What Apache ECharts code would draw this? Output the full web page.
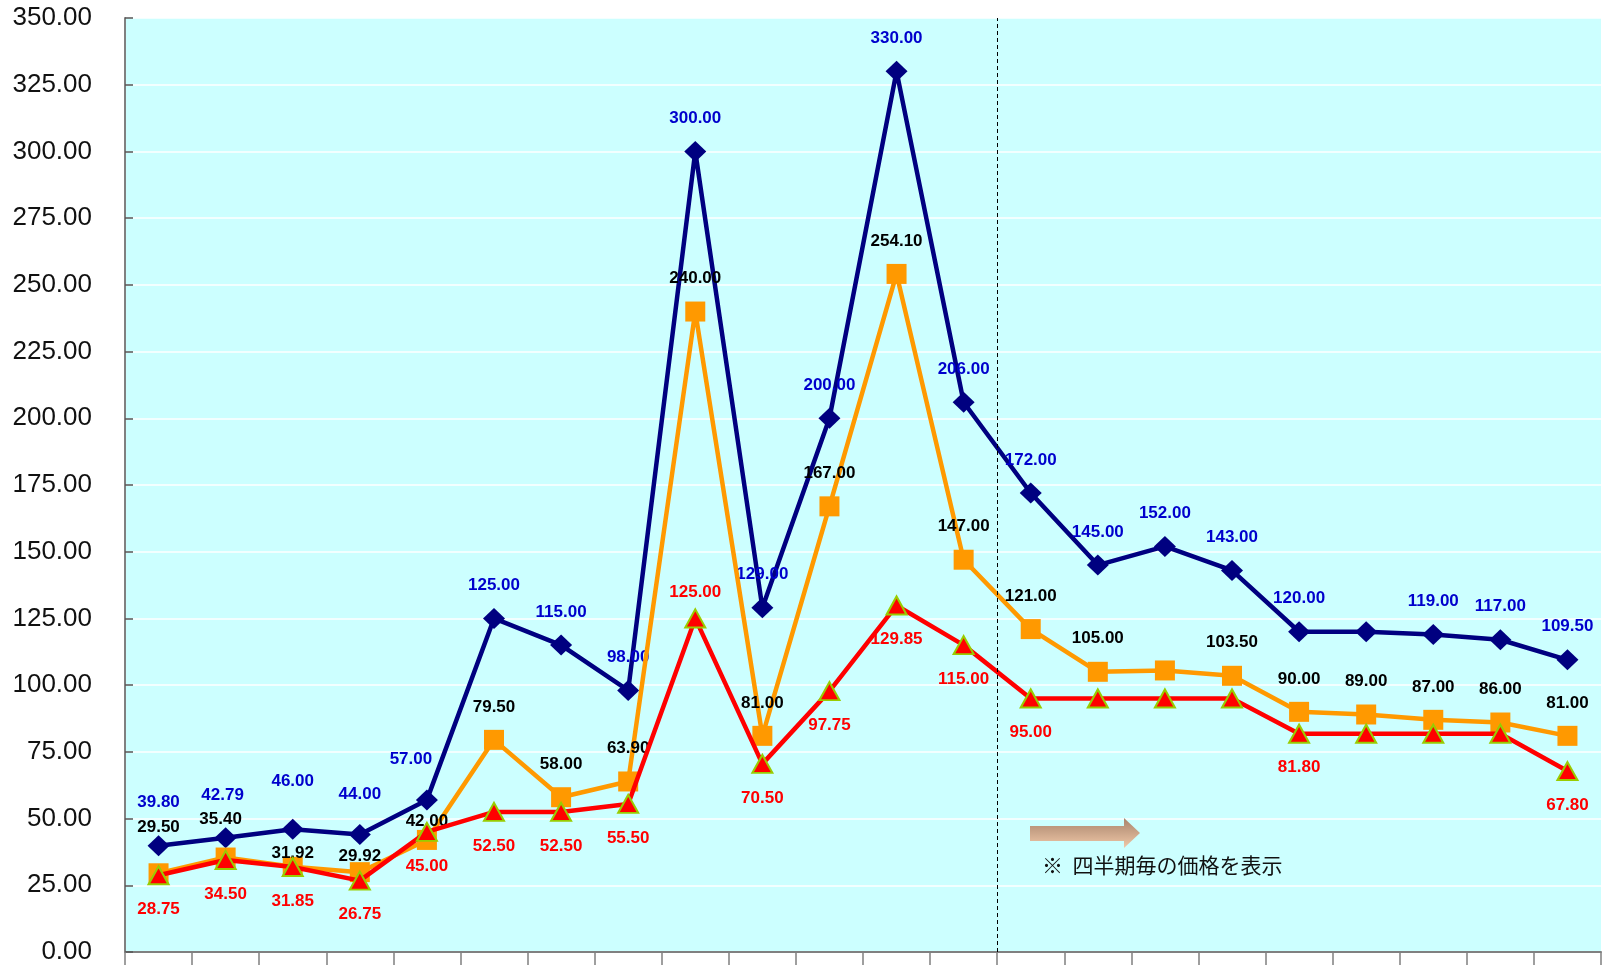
<!DOCTYPE html>
<html>
<head>
<meta charset="utf-8">
<script src="https://cdn.jsdelivr.net/npm/echarts@6/dist/echarts.min.js"></script>
<style>
html,body{margin:0;padding:0;background:#fff;}
#c{width:1606px;height:965px;}
</style>
</head>
<body>
<div id="c"></div>
<script>
// ---- data ----
var categories = ['1','2','3','4','5','6','7','8','9','10','11','12','13','14','15','16','17','18','19','20','21','22'];
var highPrice = [39.80, 42.79, 46.00, 44.00, 57.00, 125.00, 115.00, 98.00, 300.00, 129.00, 200.00, 330.00, 206.00, 172.00, 145.00, 152.00, 143.00, 120.00, 120.00, 119.00, 117.00, 109.50];
var midPrice  = [29.50, 35.40, 31.92, 29.92, 42.00, 79.50, 58.00, 63.90, 240.00, 81.00, 167.00, 254.10, 147.00, 121.00, 105.00, 105.50, 103.50, 90.00, 89.00, 87.00, 86.00, 81.00];
var lowPrice  = [28.75, 34.50, 31.85, 26.75, 45.00, 52.50, 52.50, 55.50, 125.00, 70.50, 97.75, 129.85, 115.00, 95.00, 95.00, 95.00, 95.00, 81.80, 81.80, 81.80, 81.80, 67.80];
var yTicks = {min: 0, max: 350, interval: 25};
var quarterStartIndex = 13;
var noteText = '※  四半期毎の価格を表示';

// ---- label styling (positions only, not data) ----
var hiddenLabels = { high: [18], mid: [15], low: [14, 15, 16, 18, 19, 20] };
var labelOffsets = {
  high: { def: [0, -33], 0: [0, -43], 1: [-3, -42], 2: [0, -48], 3: [0, -40], 4: [-16, -41] },
  mid:  { def: [0, -33], 0: [0, -46], 1: [-5, -38], 2: [0, -14], 3: [0, -16], 4: [0, -19] },
  low:  { def: [0, 34], 8: [0, -26] }
};

function buildData(values, key) {
  return values.map(function (v, i) {
    var off = labelOffsets[key][i] || labelOffsets[key].def;
    return {
      value: v,
      label: { show: hiddenLabels[key].indexOf(i) < 0, offset: off }
    };
  });
}

var labelFont = {
  fontFamily: 'Liberation Sans, Arial, sans-serif',
  fontWeight: 'bold',
  fontSize: 17,
  position: 'inside',
  formatter: function (p) { return p.value.toFixed(2); }
};

var chart = echarts.init(document.getElementById('c'), null, {renderer: 'canvas'});
chart.setOption({
  animation: false,
  backgroundColor: '#ffffff',
  grid: {
    left: 125, right: 5, top: 18, bottom: 13,
    show: true, backgroundColor: '#CCFFFF', borderWidth: 0
  },
  xAxis: [{
    type: 'category',
    data: categories,
    boundaryGap: true,
    axisLine: { lineStyle: { color: '#808080', width: 2 } },
    axisTick: { show: true, inside: false, length: 14, interval: 0, lineStyle: { color: '#808080', width: 1.5 } },
    axisLabel: { show: false },
    splitLine: { show: false }
  }, {
    type: 'value',
    min: 0, max: categories.length,
    show: false
  }],
  yAxis: {
    type: 'value',
    min: yTicks.min, max: yTicks.max, interval: yTicks.interval,
    axisLine: { show: true, lineStyle: { color: '#808080', width: 2 } },
    axisTick: { show: true, inside: true, length: 8, lineStyle: { color: '#555555', width: 1.5 } },
    axisLabel: {
      margin: 33,
      fontSize: 26,
      color: '#111111',
      fontFamily: 'Liberation Sans, Arial, sans-serif',
      formatter: function (v) { return v.toFixed(2); }
    },
    splitLine: { show: true, lineStyle: { color: '#ffffff', width: 1.5 } }
  },
  series: [{
    name: 'high',
    type: 'line',
    data: buildData(highPrice, 'high'),
    symbol: 'diamond',
    symbolSize: [22, 21],
    lineStyle: { color: '#000080', width: 4.5 },
    itemStyle: { color: '#000080' },
    label: Object.assign({ color: '#0000CC' }, labelFont),
    emphasis: { disabled: true },
    z: 2
  }, {
    name: 'mid',
    type: 'line',
    data: buildData(midPrice, 'mid'),
    symbol: 'rect',
    symbolSize: 20,
    lineStyle: { color: '#FF9900', width: 4.5 },
    itemStyle: { color: '#FF9900' },
    label: Object.assign({ color: '#000000' }, labelFont),
    emphasis: { disabled: true },
    z: 3
  }, {
    name: 'low',
    type: 'line',
    data: buildData(lowPrice, 'low'),
    symbol: 'triangle',
    symbolSize: [20, 18],
    lineStyle: { color: '#FF0000', width: 4.5 },
    itemStyle: { color: '#FF0000', borderColor: '#99CC00', borderWidth: 2 },
    label: Object.assign({ color: '#FF0000' }, labelFont),
    emphasis: { disabled: true },
    z: 4
  }, {
    name: 'divider',
    type: 'line',
    xAxisIndex: 1,
    data: [],
    markLine: {
      silent: true,
      symbol: 'none',
      label: { show: false },
      lineStyle: { color: '#000000', type: [4, 3], width: 1 },
      data: [{ xAxis: quarterStartIndex }]
    },
    z: 1
  }],
  graphic: [{
    type: 'polygon',
    shape: { points: [[1030, 826], [1124, 826], [1124, 818], [1140, 833], [1124, 848], [1124, 841], [1030, 841]] },
    style: {
      fill: new echarts.graphic.LinearGradient(0, 0, 0, 1, [
        { offset: 0, color: '#A8846C' },
        { offset: 1, color: '#F0C8A8' }
      ])
    },
    z: 10
  }, {
    type: 'text',
    left: 1042, top: 855,
    style: {
      text: noteText,
      fontSize: 21,
      fontFamily: 'Noto Sans CJK JP, sans-serif',
      fill: '#111111'
    },
    z: 10
  }]
});
</script>
</body>
</html>
